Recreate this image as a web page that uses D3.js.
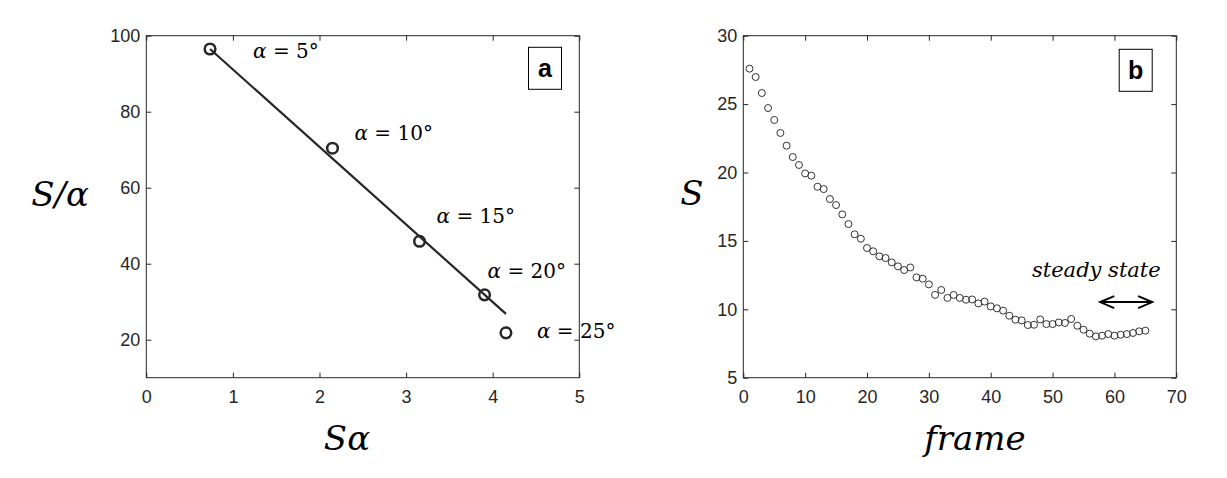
<!DOCTYPE html>
<html>
<head>
<meta charset="utf-8">
<script src="https://cdn.jsdelivr.net/npm/d3@7"></script>
<style>
    body { margin: 0; background: #ffffff; }
    .tick text { font-family: "Liberation Sans", Arial, sans-serif; font-size: 18px; fill: #262626; }
    .tick line { stroke: #262626; }
    .math { font-family: "DejaVu Serif", serif; fill: #000000; }
</style>
</head>
<body>
<div id="chart"></div>
<script>
"use strict";

// panel a : S*alpha vs S/alpha for each tilt angle
const angles = [5, 10, 15, 20, 25];
const sAlpha = [0.736, 2.15, 3.155, 3.906, 4.153];
const sOverAlpha = [96.5, 70.4, 45.9, 31.8, 21.8];
// fitted line end points
const fitX = [0.736, 4.153];
const fitY = [96.5, 26.8];

// panel b : S per frame
const frames = d3.range(1, 66);
const sValues = [
    27.59, 26.98, 25.81, 24.71, 23.84, 22.89, 21.96, 21.13, 20.55, 19.93,
    19.77, 18.96, 18.79, 18.06, 17.62, 16.94, 16.23, 15.48, 15.16, 14.48,
    14.24, 13.87, 13.75, 13.43, 13.14, 12.87, 13.06, 12.33, 12.24, 11.82,
    11.05, 11.41, 10.83, 11.05, 10.83, 10.70, 10.72, 10.43, 10.56, 10.21,
    10.07, 9.90, 9.53, 9.24, 9.19, 8.85, 8.87, 9.26, 8.92, 8.92,
    9.04, 9.00, 9.29, 8.80, 8.51, 8.22, 8.02, 8.07, 8.19, 8.07,
    8.14, 8.19, 8.27, 8.39, 8.44
];
// steady state arrow (frames) and its level
const steadyFrames = [57.7, 66.1];
const steadyLevel = 10.53;

const ticksAx = [0, 1, 2, 3, 4, 5];
const ticksAy = [20, 40, 60, 80, 100];
const ticksBx = [0, 10, 20, 30, 40, 50, 60, 70];
const ticksBy = [5, 10, 15, 20, 25, 30];

const width = 1227, height = 478;
const plotW = 433, plotH = 342;

const svg = d3.select("#chart")
    .append("svg")
    .attr("width", width)
    .attr("height", height);

function drawAxes(g, x, y, xTicks, yTicks) {

    const fmt = d3.format("d");

    g.append("g")
        .attr("transform", "translate(0," + plotH + ")")
        .call(d3.axisBottom(x).tickValues(xTicks).tickFormat(fmt).tickSizeInner(-5).tickSizeOuter(0).tickPadding(13))
        .call(a => a.select(".domain").remove());

    g.append("g")
        .call(d3.axisLeft(y).tickValues(yTicks).tickFormat(fmt).tickSizeInner(-5).tickSizeOuter(0).tickPadding(6))
        .call(a => a.select(".domain").remove());

    g.append("g")
        .call(d3.axisTop(x).tickValues(xTicks).tickSizeInner(-5).tickSizeOuter(0).tickFormat(""))
        .call(a => a.select(".domain").remove());

    g.append("g")
        .attr("transform", "translate(" + plotW + ",0)")
        .call(d3.axisRight(y).tickValues(yTicks).tickSizeInner(-5).tickSizeOuter(0).tickFormat(""))
        .call(a => a.select(".domain").remove());

    g.append("rect")
        .attr("width", plotW)
        .attr("height", plotH)
        .attr("fill", "none")
        .attr("stroke", "#262626")
        .attr("stroke-width", 1);
}

function panelTag(g, letter, cx, top) {
    g.append("rect")
        .attr("x", cx - 16.5)
        .attr("y", top)
        .attr("width", 33)
        .attr("height", 42)
        .attr("fill", "#ffffff")
        .attr("stroke", "#000000")
        .attr("stroke-width", 1);
    g.append("text")
        .attr("x", cx)
        .attr("y", top + 30)
        .attr("text-anchor", "middle")
        .attr("font-family", "Liberation Sans, Arial, sans-serif")
        .attr("font-weight", "bold")
        .attr("font-size", 25)
        .text(letter);
}

// ---------- panel a ----------
const gA = svg.append("g").attr("transform", "translate(146.3,35.7)");

const xA = d3.scaleLinear().domain([0, 5]).range([0, plotW]);
const yA = d3.scaleLinear().domain([10, 100]).range([plotH, 0]);

gA.append("path")
    .datum(d3.zip(fitX, fitY))
    .attr("fill", "none")
    .attr("stroke", "#262626")
    .attr("stroke-width", 2.2)
    .attr("d", d3.line().x(d => xA(d[0])).y(d => yA(d[1])));

gA.selectAll("circle.pt")
    .data(d3.zip(sAlpha, sOverAlpha))
    .join("circle")
    .attr("class", "pt")
    .attr("cx", d => xA(d[0]))
    .attr("cy", d => yA(d[1]))
    .attr("r", 5.3)
    .attr("fill", "none")
    .attr("stroke", "#262626")
    .attr("stroke-width", 2.5);

// label offsets from each point, pixels
const labelOffsets = [[43, 9], [22, -8], [17, -18], [3, -17], [31, 5]];

const labels = gA.selectAll("text.ang")
    .data(angles)
    .join("text")
    .attr("class", "ang math")
    .attr("font-size", 20)
    .attr("x", (d, i) => xA(sAlpha[i]) + labelOffsets[i][0])
    .attr("y", (d, i) => yA(sOverAlpha[i]) + labelOffsets[i][1]);
labels.append("tspan").attr("font-style", "italic").text("\u03b1");
labels.append("tspan").text(d => " = " + d + "\u00b0");

drawAxes(gA, xA, yA, ticksAx, ticksAy);
panelTag(gA, "a", 398.7, 11.6);

// axis labels
svg.append("text")
    .attr("class", "math")
    .attr("x", 347)
    .attr("y", 450)
    .attr("text-anchor", "middle")
    .attr("font-style", "italic")
    .attr("font-size", 34)
    .text("S\u03b1");

svg.append("text")
    .attr("class", "math")
    .attr("x", 60)
    .attr("y", 206)
    .attr("text-anchor", "middle")
    .attr("font-style", "italic")
    .attr("font-size", 34)
    .text("S/\u03b1");

// ---------- panel b ----------
const gB = svg.append("g").attr("transform", "translate(743.3,35.7)");

const xB = d3.scaleLinear().domain([0, 70]).range([0, plotW]);
const yB = d3.scaleLinear().domain([5, 30]).range([plotH, 0]);

gB.selectAll("circle.pt")
    .data(frames)
    .join("circle")
    .attr("class", "pt")
    .attr("cx", d => xB(d))
    .attr("cy", (d, i) => yB(sValues[i]))
    .attr("r", 3.5)
    .attr("fill", "none")
    .attr("stroke", "#333333")
    .attr("stroke-width", 1);

gB.append("text")
    .attr("class", "math")
    .attr("x", xB(46.67))
    .attr("y", yB(12.38))
    .attr("font-style", "italic")
    .attr("font-size", 21)
    .text("steady state");

// double headed arrow
const ax0 = xB(steadyFrames[0]), ax1 = xB(steadyFrames[1]), ay = yB(steadyLevel);
gB.append("path")
    .attr("fill", "none")
    .attr("stroke", "#000000")
    .attr("stroke-width", 2)
    .attr("d",
        "M" + ax0 + "," + ay + "L" + ax1 + "," + ay +
        "M" + (ax0 + 14) + "," + (ay - 6) + "L" + ax0 + "," + ay + "L" + (ax0 + 14) + "," + (ay + 6) +
        "M" + (ax1 - 14) + "," + (ay - 6) + "L" + ax1 + "," + ay + "L" + (ax1 - 14) + "," + (ay + 6));

drawAxes(gB, xB, yB, ticksBx, ticksBy);
panelTag(gB, "b", 392.4, 13.6);

svg.append("text")
    .attr("class", "math")
    .attr("x", 975)
    .attr("y", 450)
    .attr("text-anchor", "middle")
    .attr("font-style", "italic")
    .attr("font-size", 34)
    .text("frame");

svg.append("text")
    .attr("class", "math")
    .attr("x", 692)
    .attr("y", 205)
    .attr("text-anchor", "middle")
    .attr("font-style", "italic")
    .attr("font-size", 34)
    .text("S");
</script>
</body>
</html>
